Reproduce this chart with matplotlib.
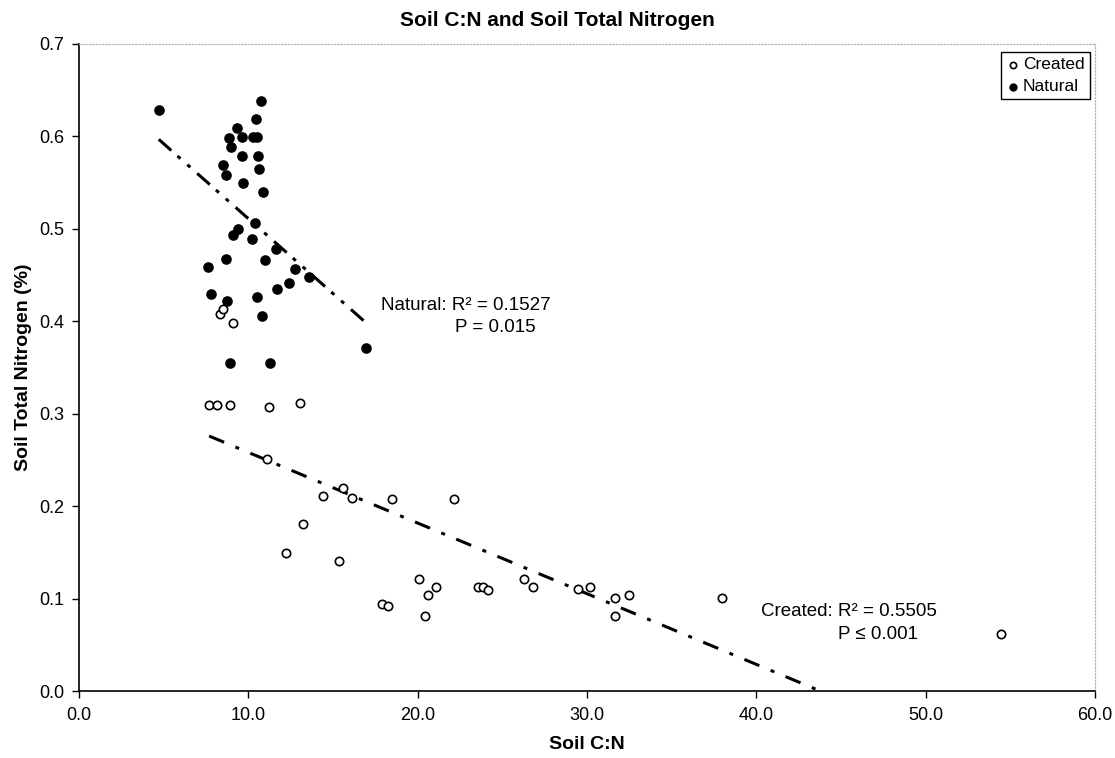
# Soil C:N vs soil total nitrogen, created vs natural wetlands
import numpy as np
import matplotlib
matplotlib.use('Agg')
import matplotlib.pyplot as plt
from matplotlib.ticker import FormatStrFormatter, MultipleLocator

plt.rcParams['font.family'] = ['Liberation Sans', 'DejaVu Sans']

# Created sites
created_cn = [8.33, 8.5, 9.1, 7.68, 8.15, 8.92, 11.2, 13.05, 11.1, 12.2,
              13.2, 14.4, 15.6, 16.1, 15.36, 18.5, 22.15, 17.9, 18.25, 20.1,
              20.6, 21.1, 20.4, 23.57, 23.86, 24.16, 26.3, 26.8, 29.47, 30.18,
              31.66, 31.66, 32.5, 37.98, 54.46]
created_n = [0.408, 0.413, 0.398, 0.310, 0.310, 0.310, 0.307, 0.312, 0.251, 0.150,
             0.181, 0.211, 0.220, 0.209, 0.141, 0.208, 0.208, 0.094, 0.092, 0.121,
             0.104, 0.113, 0.081, 0.113, 0.113, 0.110, 0.121, 0.113, 0.111, 0.113,
             0.101, 0.081, 0.104, 0.101, 0.062]

# Natural sites
natural_cn = [4.7, 10.75, 10.45, 9.33, 8.86, 9.63, 10.28, 10.51, 8.98, 9.63,
              10.57, 8.5, 10.63, 8.68, 9.69, 10.87, 10.4, 9.39, 9.1, 10.2,
              11.6, 8.68, 10.99, 7.6, 12.76, 13.59, 12.4, 11.7, 7.8, 8.74,
              10.5, 10.8, 8.9, 11.3, 16.95]
natural_n = [0.629, 0.638, 0.619, 0.609, 0.598, 0.599, 0.599, 0.599, 0.589, 0.579,
             0.579, 0.569, 0.565, 0.558, 0.550, 0.540, 0.506, 0.500, 0.493, 0.489,
             0.478, 0.467, 0.466, 0.459, 0.457, 0.448, 0.442, 0.435, 0.430, 0.422,
             0.426, 0.406, 0.355, 0.355, 0.371]

# Linear trendlines (slope, intercept) and their x extents
natural_fit = (-0.0162, 0.673)
natural_range = (4.7, 16.95)
created_fit = (-0.00764, 0.3347)
created_range = (7.68, 43.8)

fig, ax = plt.subplots(figsize=(11.15, 7.58), dpi=100)
fig.subplots_adjust(left=0.071, right=0.982, bottom=0.088, top=0.942)

ax.scatter(created_cn, created_n, s=36, facecolors='white', edgecolors='black',
           linewidths=1.2, zorder=3, label='Created')
ax.scatter(natural_cn, natural_n, s=44, color='black', zorder=3, label='Natural')

xs = np.array(natural_range)
ax.plot(xs, natural_fit[0] * xs + natural_fit[1], color='black', lw=2.2,
        linestyle=(0, (5.5, 2.7, 1.3, 3, 1.3, 3)), dash_capstyle='butt', zorder=2)
xs = np.array(created_range)
ax.plot(xs, created_fit[0] * xs + created_fit[1], color='black', lw=2.2,
        linestyle=(0, (5.3, 4, 1.3, 4)), dash_capstyle='butt', zorder=2)

# Fit statistics
ax.text(17.8, 0.417, 'Natural: R\u00b2 = 0.1527', fontsize=13.5, va='center')
ax.text(22.2, 0.393, 'P = 0.015', fontsize=13.5, va='center')
ax.text(40.3, 0.0858, 'Created: R\u00b2 = 0.5505', fontsize=13.5, va='center')
ax.text(44.8, 0.0617, 'P \u2264 0.001', fontsize=13.5, va='center')

ax.set_xlim(0, 60)
ax.set_ylim(0, 0.7)
ax.xaxis.set_major_locator(MultipleLocator(10))
ax.yaxis.set_major_locator(MultipleLocator(0.1))
ax.xaxis.set_major_formatter(FormatStrFormatter('%.1f'))
ax.yaxis.set_major_formatter(FormatStrFormatter('%.1f'))
ax.tick_params(direction='out', length=5, width=1, labelsize=13, pad=6)

for side in ['left', 'bottom']:
    ax.spines[side].set_linewidth(1.2)
for side in ['top', 'right']:
    ax.spines[side].set_color('#b5b5b5')
    ax.spines[side].set_linestyle(':')
    ax.spines[side].set_linewidth(0.9)

ax.set_xlabel('Soil C:N', fontsize=14, fontweight='bold', labelpad=9)
ax.set_ylabel('Soil Total Nitrogen (%)', fontsize=14, fontweight='bold', labelpad=5)
fig.suptitle('Soil C:N and Soil Total Nitrogen', fontsize=15, fontweight='bold',
             x=0.5, y=0.986)

leg = ax.legend(loc='upper right', bbox_to_anchor=(0.995, 0.988), fontsize=12.5,
                frameon=True, fancybox=False, edgecolor='black', framealpha=1,
                handletextpad=0.25, handlelength=0.7, borderpad=0.3,
                labelspacing=0.4, borderaxespad=0, markerscale=0.75)
leg.get_frame().set_linewidth(1.0)

fig.savefig('out.png', dpi=100)
